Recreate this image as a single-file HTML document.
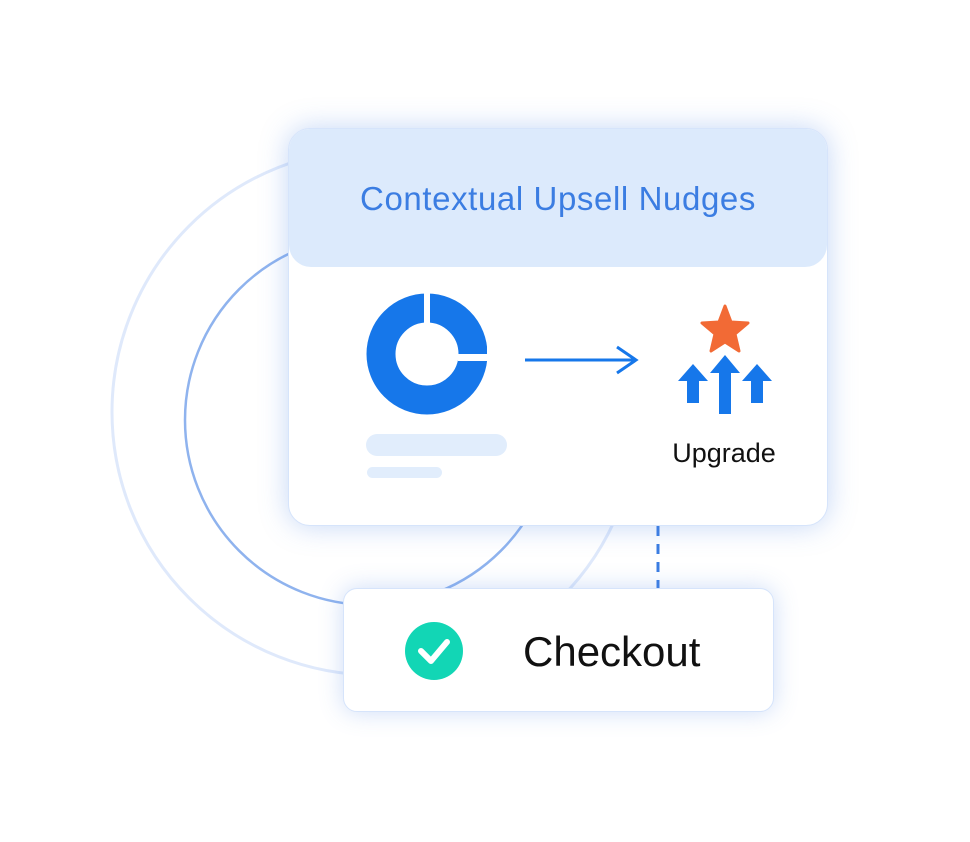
<!DOCTYPE html>
<html><head><meta charset="utf-8"><style>
body{margin:0;width:970px;height:842px;background:#fff;position:relative;overflow:hidden;font-family:"Liberation Sans",sans-serif}
.card{position:absolute;left:288px;top:128px;width:540px;height:398px;background:#fff;border-radius:22px;box-shadow:0 0 28px rgba(90,140,230,0.35);border:1px solid #d6e4fb;box-sizing:border-box;overflow:hidden}
.hdr{height:138px;background:#dceafc;border-radius:0 0 22px 22px;text-align:center;line-height:140px;color:#3b7de2;font-size:33px;letter-spacing:0.6px}
.co{position:absolute;left:343px;top:588px;width:431px;height:124px;background:#fff;border-radius:14px;border:1px solid #d6e4fb;box-sizing:border-box;box-shadow:0 0 24px rgba(90,140,230,0.3)}
</style></head><body>
<svg width="970" height="842" style="position:absolute;left:0;top:0">
<circle cx="375" cy="412" r="263" fill="none" stroke="#dfe9fb" stroke-width="3"/>
<circle cx="370" cy="420" r="185" fill="none" stroke="#8fb3ee" stroke-width="2.5"/>
<line x1="658" y1="526" x2="658" y2="588" stroke="#3b7de2" stroke-width="3" stroke-dasharray="10,8"/>
</svg>
<div class="card"><div class="hdr">Contextual Upsell Nudges</div></div>
<svg width="970" height="842" style="position:absolute;left:0;top:0">
<circle cx="427" cy="354" r="46" fill="none" stroke="#1677ea" stroke-width="29"/>
<rect x="424" y="290" width="6" height="35" fill="#fff"/>
<rect x="458" y="354" width="40" height="7" fill="#fff"/>
<rect x="487" y="290" width="20" height="130" fill="#fff"/>
<rect x="366" y="434" width="141" height="22" rx="11" fill="#e1edfc"/>
<rect x="367" y="467" width="75" height="11" rx="5.5" fill="#e1edfc"/>
<line x1="525" y1="360" x2="634" y2="360" stroke="#1677ea" stroke-width="3"/>
<polyline points="617,347 636,360 617,373" fill="none" stroke="#1677ea" stroke-width="3"/>
<polygon points="725,306 731,322 748,323 735,334 739,351 725,342 711,351 715,334 702,323 719,322" fill="#f26a35" stroke="#f26a35" stroke-width="3" stroke-linejoin="round"/>
<polygon points="725,355 740,373 731,373 731,414 719,414 719,373 710,373" fill="#1677ea"/>
<polygon points="693,364 708,381 699,381 699,403 687,403 687,381 678,381" fill="#1677ea"/>
<polygon points="757,364 772,381 763,381 763,403 751,403 751,381 742,381" fill="#1677ea"/>
<text x="724" y="462" text-anchor="middle" font-size="27" font-family="Liberation Sans" fill="#111">Upgrade</text>
</svg>
<div class="co">
<svg width="431" height="124" style="position:absolute;left:-1px;top:-1px">
<circle cx="91" cy="63" r="29" fill="#12d6b5"/>
<polyline points="78,63 88,73 104,54" fill="none" stroke="#fff" stroke-width="6" stroke-linecap="round" stroke-linejoin="round"/>
<text x="180" y="78" font-size="42" font-family="Liberation Sans" fill="#111">Checkout</text>
</svg>
</div>
</body></html>
